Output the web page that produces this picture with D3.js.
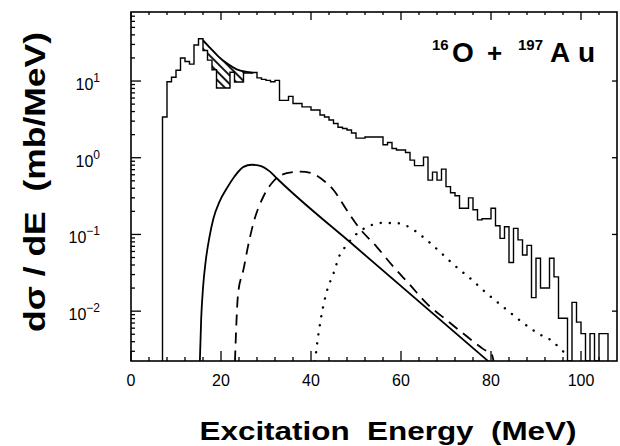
<!DOCTYPE html>
<html>
<head>
<meta charset="utf-8">
<script src="https://cdn.jsdelivr.net/npm/d3@7"></script>
<style>
  body { margin: 0; background: #fff; }
  svg { display: block; }
</style>
</head>
<body>
<div id="chart"></div>
<script>
// tick labels
const xTicks = [0, 20, 40, 60, 80, 100];
const yTicks = [1e-2, 1e-1, 1e0, 1e1];
const yExponents = ['\u22122', '\u22121', '0', '1'];

// measured spectrum, 1 MeV bins starting at 7 MeV (0 = empty bin)
const histStart = 7;
const histValues = [
  3.4, 9.8, 11.2, 13.8, 20, 18, 16.6, 29.5, 35.5, 25,
  18.7, 14, 8.1, 8.1, 8.1, 13, 9.7, 9.7, 12.7, 12.7,
  12.9, 11, 10.5, 10.2, 9.8, 10.2, 5.6, 5.6, 6.3, 5.1,
  5.1, 4.6, 4.6, 4.2, 4.2, 3.6, 3.4, 3.1, 2.8, 2.5,
  2.4, 2.3, 2.1, 1.8, 1.8, 1.86, 1.86, 1.86, 1.86, 1.48,
  1.58, 1.32, 1.26, 1.26, 1.17, 0.93, 0.79, 0.79, 1.02, 0.51,
  0.65, 0.51, 0.71, 0.42, 0.35, 0.32, 0.22, 0.22, 0.30, 0.21,
  0.155, 0.16, 0.16, 0.22, 0.13, 0.089, 0.126, 0.043, 0.12, 0.085,
  0.054, 0.072, 0.015, 0.049, 0.020, 0.020, 0.049, 0.028, 0.0081, 0.0081,
  0, 0.013, 0.0072, 0.0051, 0, 0.0051, 0, 0.0051, 0.0051
];

// upper edge of the hatched region
const hatchE = [16, 17.6, 19.4, 21.3, 23.5, 25.7, 27];
const hatchV = [34, 27, 21, 17, 14.2, 13.2, 12.9];

// calculated curves
const solidE = [15.3, 15.6, 16.0, 16.6, 17.4, 18.3, 19.7, 21.3, 23, 25, 26.8, 28.5, 30.9, 32.4, 50, 79.5];
const solidV = [0.0022, 0.008, 0.02, 0.045, 0.09, 0.16, 0.27, 0.40, 0.57, 0.76, 0.81, 0.79, 0.66, 0.54, 0.068, 0.0022];

const dashE = [23.1, 23.8, 25, 26, 27.2, 29.4, 31.6, 34.6, 37.6, 40.2, 42.5, 45, 47.9, 50.5, 54.6, 58.3, 62, 65.7, 70.2, 74.6, 78.3, 80.2, 80.6];
const dashV = [0.0022, 0.017, 0.035, 0.07, 0.14, 0.31, 0.49, 0.63, 0.66, 0.63, 0.52, 0.38, 0.21, 0.126, 0.069, 0.038, 0.022, 0.0126, 0.0076, 0.0047, 0.0032, 0.0027, 0.0022];

const dotE = [40.9, 41.3, 42.4, 43.5, 45, 46.4, 47.6, 50, 53.1, 55.7, 58.7, 62, 64.2, 66.4, 68.7, 70.5, 72.7, 75, 78.7, 82.6, 86.4, 90.5, 93.8, 95.7, 97.6];
const dotV = [0.0022, 0.0035, 0.0093, 0.018, 0.031, 0.054, 0.069, 0.10, 0.13, 0.141, 0.141, 0.123, 0.10, 0.078, 0.059, 0.047, 0.036, 0.028, 0.0178, 0.0115, 0.0076, 0.0051, 0.004, 0.0031, 0.0026];

const width = 620, height = 446;
const plotL = 131, plotR = 617, plotT = 12, plotB = 361;
const font = '"Liberation Sans", Arial, Helvetica, sans-serif';

const svg = d3.select('#chart').append('svg')
  .attr('width', width)
  .attr('height', height);

const x = d3.scaleLinear().domain([0, 108]).range([plotL, plotR]);
const y = d3.scaleLog().domain([0.00224, 79.4]).range([plotB, plotT]);
const yv = v => (v > 0 ? y(Math.max(v, y.domain()[0])) : plotB);

// clip for data
const defs = svg.append('defs');
defs.append('clipPath').attr('id', 'plot-clip')
  .append('rect').attr('x', plotL).attr('y', plotT)
  .attr('width', plotR - plotL).attr('height', plotB - plotT);

// hatch pattern
defs.append('pattern')
  .attr('id', 'hatch')
  .attr('patternUnits', 'userSpaceOnUse')
  .attr('width', 6).attr('height', 6)
  .attr('patternTransform', 'rotate(-45)')
  .append('line')
  .attr('x1', 1).attr('y1', 0).attr('x2', 1).attr('y2', 6)
  .attr('stroke', '#000').attr('stroke-width', 1.8);

const plot = svg.append('g').attr('clip-path', 'url(#plot-clip)');

// histogram step path
const histEdges = d3.range(histValues.length + 1).map(i => histStart + i);
let hp = `M${x(histEdges[0])},${plotB}`;
histValues.forEach((v, i) => {
  hp += `L${x(histEdges[i])},${yv(v)}L${x(histEdges[i + 1])},${yv(v)}`;
});
hp += `L${x(histEdges[histEdges.length - 1])},${plotB}`;

// hatched region: between hatch curve and histogram
const lineLog = d3.line().curve(d3.curveMonotoneX);
const hatchPts = hatchE.map((e, i) => [x(e), y(hatchV[i])]);
const i0 = hatchE[0] - histStart, i1 = hatchE[hatchE.length - 1] - histStart;
const lowerPts = [];
for (let i = i1 - 1; i >= i0; i--) {
  lowerPts.push([x(histEdges[i + 1]), yv(histValues[i])]);
  lowerPts.push([x(histEdges[i]), yv(histValues[i])]);
}
plot.append('path')
  .attr('d', lineLog(hatchPts) + lowerPts.map(p => `L${p[0]},${p[1]}`).join('') + 'Z')
  .attr('fill', 'url(#hatch)')
  .attr('stroke', 'none');
plot.append('path')
  .attr('d', lineLog(hatchPts))
  .attr('fill', 'none').attr('stroke', '#000').attr('stroke-width', 1.8);

plot.append('path')
  .attr('d', hp)
  .attr('fill', 'none')
  .attr('stroke', '#000')
  .attr('stroke-width', 1.4);

// theory curves
const curve = (E, V) => lineLog(E.map((e, i) => [x(e), y(V[i])]));
plot.append('path').attr('d', curve(solidE, solidV))
  .attr('fill', 'none').attr('stroke', '#000').attr('stroke-width', 1.8);
plot.append('path').attr('d', curve(dashE, dashV))
  .attr('fill', 'none').attr('stroke', '#000').attr('stroke-width', 1.8)
  .attr('stroke-dasharray', '11 7');
plot.append('path').attr('d', curve(dotE, dotV))
  .attr('fill', 'none').attr('stroke', '#000').attr('stroke-width', 2.4)
  .attr('stroke-linecap', 'round')
  .attr('stroke-dasharray', '0.1 9');

// frame
svg.append('rect')
  .attr('x', plotL).attr('y', plotT)
  .attr('width', plotR - plotL).attr('height', plotB - plotT)
  .attr('fill', 'none').attr('stroke', '#000').attr('stroke-width', 1.6);

// x ticks (bottom and top, inward)
const xMinor = d3.range(0, 108, 4);
const ticks = svg.append('g').attr('stroke', '#000').attr('stroke-width', 1.3);
xMinor.forEach(t => {
  const len = t % 20 === 0 ? 10 : 4;
  ticks.append('line').attr('x1', x(t)).attr('x2', x(t))
    .attr('y1', plotB).attr('y2', plotB - len);
  ticks.append('line').attr('x1', x(t)).attr('x2', x(t))
    .attr('y1', plotT).attr('y2', plotT + (t % 20 === 0 ? 8 : 3));
});

// y ticks (left with minor log ticks, right decades only)
const yMinor = [];
[-3, -2, -1, 0, 1].forEach(p => {
  for (let m = 1; m < 10; m++) yMinor.push(m * Math.pow(10, p));
});
yMinor.filter(v => v >= y.domain()[0] && v <= y.domain()[1]).forEach(v => {
  const major = Math.abs(Math.log10(v) - Math.round(Math.log10(v))) < 1e-9;
  ticks.append('line').attr('x1', plotL).attr('x2', plotL + (major ? 10 : 4))
    .attr('y1', y(v)).attr('y2', y(v));
});
yTicks.forEach(v => {
  ticks.append('line').attr('x1', plotR).attr('x2', plotR - 5)
    .attr('y1', y(v)).attr('y2', y(v));
});

// x tick labels
svg.append('g').selectAll('text').data(xTicks).join('text')
  .attr('x', d => x(d)).attr('y', 386)
  .attr('text-anchor', 'middle')
  .attr('font-family', font).attr('font-size', 16)
  .text(d => d);

// y tick labels 10^n
yTicks.forEach((v, i) => {
  const t = svg.append('text')
    .attr('x', 100).attr('y', y(v) + 9)
    .attr('text-anchor', 'end')
    .attr('font-family', font).attr('font-size', 16);
  t.append('tspan').text('10');
  t.append('tspan').attr('dy', -8).attr('font-size', 12).text(yExponents[i]);
});

// axis titles
svg.append('text')
  .attr('x', 388).attr('y', 440)
  .attr('text-anchor', 'middle')
  .attr('font-family', font).attr('font-size', 25).attr('font-weight', 'bold')
  .attr('textLength', 377).attr('lengthAdjust', 'spacingAndGlyphs')
  .style('white-space', 'pre')
  .text('Excitation  Energy  (MeV)');

svg.append('text')
  .attr('transform', 'translate(45,182) rotate(-90)')
  .attr('text-anchor', 'middle')
  .attr('font-family', font).attr('font-size', 29).attr('font-weight', 'bold')
  .attr('textLength', 300).attr('lengthAdjust', 'spacingAndGlyphs')
  .style('white-space', 'pre')
  .text('d\u03c3 / dE  (mb/MeV)');

// reaction label
const lab = svg.append('g')
  .attr('font-family', font).attr('font-weight', 'bold');
lab.append('text').attr('x', 432).attr('y', 50).attr('font-size', 15).text('16');
lab.append('text').attr('x', 452).attr('y', 62).attr('font-size', 28).text('O');
lab.append('text').attr('x', 487).attr('y', 62).attr('font-size', 26).text('+');
lab.append('text').attr('x', 518).attr('y', 50).attr('font-size', 15).text('197');
lab.append('text').attr('x', 550).attr('y', 62).attr('font-size', 28).text('A');
lab.append('text').attr('x', 578).attr('y', 62).attr('font-size', 28).text('u');
</script>
</body>
</html>
